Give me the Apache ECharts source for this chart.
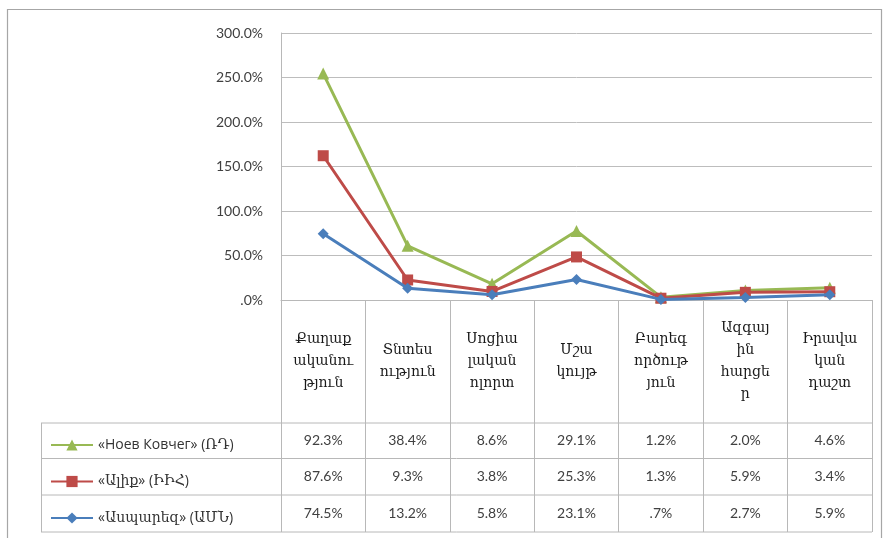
<!DOCTYPE html>
<html>
<head>
<meta charset="utf-8">
<script src="https://cdn.jsdelivr.net/npm/echarts@6/dist/echarts.min.js"></script>
<style>html,body{margin:0;padding:0;background:#fff;}#c{width:889px;height:538px;}</style>
</head>
<body>
<div id="c"></div>
<script>
const categories = ['Քաղաք\nականու\nթյուն', 'Տնտես\nություն', 'Սոցիա\nլական\nոլորտ', 'Մշա\nկույթ', 'Բարեգ\nործութ\nյուն', 'Ազգայ\nին\nհարցե\nր', 'Իրավա\nկան\nդաշտ'];
const seriesNames = ['«Ասպարեզ» (ԱՄՆ)', '«Ալիք» (ԻԻՀ)', '«Ноев Ковчег» (ՌԴ)'];
const aspharez = [74.5, 13.2, 5.8, 23.1, 0.7, 2.7, 5.9];
const alik = [87.6, 9.3, 3.8, 25.3, 1.3, 5.9, 3.4];
const noev = [92.3, 38.4, 8.6, 29.1, 1.2, 2.0, 4.6];
const yTicks = [0, 50, 100, 150, 200, 250, 300];

const colors = {blue: '#4A7EBB', red: '#BE4B48', green: '#98B954'};
const fmt = v => { let s = v.toFixed(1); if (s.startsWith('0')) s = s.slice(1); return s + '%'; };
const valFont = 'Lato, "Open Sans", sans-serif';
const armFont = '"DejaVu Serif", serif';

function rowAxis(arr, offset) {
  return {
    type: 'category', data: categories, position: 'bottom', offset: offset,
    axisLine: {show: false}, axisTick: {show: false}, splitLine: {show: false},
    axisLabel: {margin: 0, verticalAlign: 'middle', fontFamily: valFont, fontSize: 14, color: '#404040',
      formatter: (v, i) => fmt(arr[i])}
  };
}

const chart = echarts.init(document.getElementById('c'), null, {renderer: 'canvas'});
const tableLine = {stroke: '#b8b8b8', lineWidth: 1};
chart.setOption({
  animation: false,
  grid: {left: 281, right: 17, top: 33, bottom: 238, containLabel: false},
  legend: {
    orient: 'vertical', left: 45, top: 433, itemWidth: 42, itemHeight: 14, itemGap: 22.5,
    data: [seriesNames[2], seriesNames[1], seriesNames[0]],
    textStyle: {fontFamily: '"Open Sans", ' + armFont, fontSize: 14, color: '#333'},
    selectedMode: false
  },
  xAxis: [
    {
      type: 'category', data: categories, boundaryGap: true,
      axisLine: {show: true, lineStyle: {color: '#b8b8b8'}},
      axisTick: {show: true, length: 232, lineStyle: {color: '#b8b8b8'}},
      axisLabel: {margin: 61, verticalAlign: 'middle', interval: 0, fontFamily: armFont, fontSize: 14, lineHeight: 22, color: '#1a1a1a'}
    },
    rowAxis(noev, 140),
    rowAxis(alik, 176),
    rowAxis(aspharez, 213)
  ],
  yAxis: {
    type: 'value', min: 0, max: 300, interval: 50,
    axisLine: {show: true, lineStyle: {color: '#b8b8b8'}},
    axisTick: {show: false},
    splitLine: {lineStyle: {color: '#bdbdbd'}},
    axisLabel: {margin: 18, fontFamily: valFont, fontSize: 14, color: '#404040',
      formatter: v => v === 0 ? '.0%' : v.toFixed(1) + '%'}
  },
  series: [
    {name: seriesNames[0], type: 'line', stack: 'total', data: aspharez, symbol: 'diamond', symbolSize: 11,
      lineStyle: {width: 3, color: colors.blue}, itemStyle: {color: colors.blue}, z: 4},
    {name: seriesNames[1], type: 'line', stack: 'total', data: alik, symbol: 'rect', symbolSize: 11,
      lineStyle: {width: 3, color: colors.red}, itemStyle: {color: colors.red}, z: 3},
    {name: seriesNames[2], type: 'line', stack: 'total', data: noev, symbol: 'triangle', symbolSize: 12,
      lineStyle: {width: 3, color: colors.green}, itemStyle: {color: colors.green}, z: 2}
  ],
  graphic: [
    {type: 'rect', shape: {x: 7.5, y: 9.5, width: 874, height: 540}, style: {fill: null, stroke: '#a6a6a6', lineWidth: 1.2}, silent: true},
    {type: 'line', shape: {x1: 41, y1: 423, x2: 872, y2: 423}, style: tableLine, silent: true},
    {type: 'line', shape: {x1: 41, y1: 458.5, x2: 872, y2: 458.5}, style: tableLine, silent: true},
    {type: 'line', shape: {x1: 41, y1: 495, x2: 872, y2: 495}, style: tableLine, silent: true},
    {type: 'line', shape: {x1: 41, y1: 532, x2: 872, y2: 532}, style: tableLine, silent: true},
    {type: 'line', shape: {x1: 41.5, y1: 423, x2: 41.5, y2: 532}, style: tableLine, silent: true}
  ]
});
</script>
</body>
</html>
